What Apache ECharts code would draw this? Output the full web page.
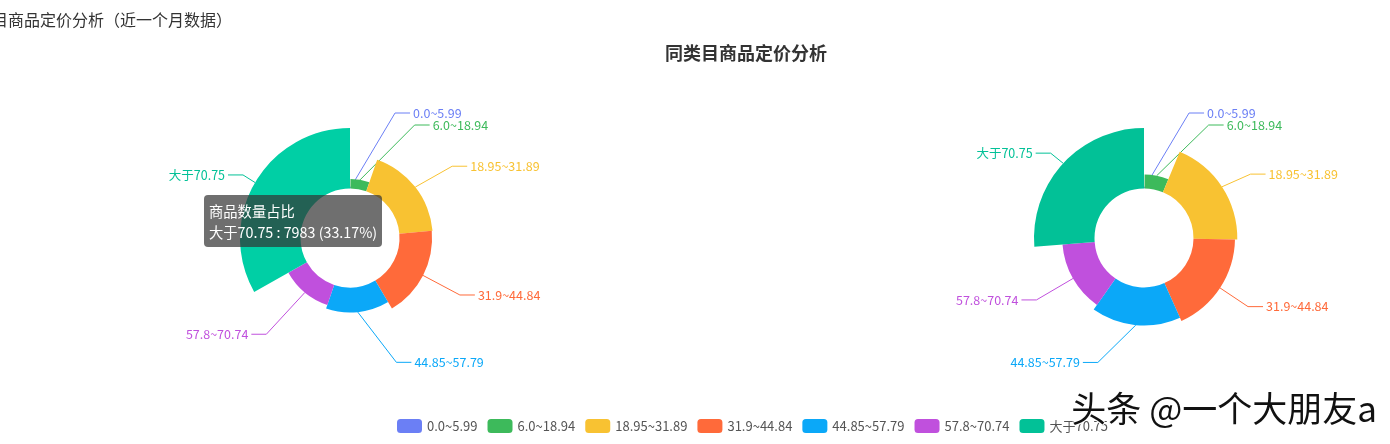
<!DOCTYPE html>
<html><head><meta charset="utf-8">
<script src="https://cdn.jsdelivr.net/npm/echarts@6.0.0/dist/echarts.min.js"></script>
<style>html,body{margin:0;padding:0;background:#fff;overflow:hidden}#c{width:1390px;height:444px}</style>
</head><body><div id="c"></div>
<script>
const categories = ['0.0~5.99', '6.0~18.94', '18.95~31.89', '31.9~44.84', '44.85~57.79', '57.8~70.74', '大于70.75'];
const leftValues = [30, 1250, 4400, 4300, 3304, 2800, 7983];
const rightValues = [30, 1220, 3800, 3600, 3300, 2800, 5250];
const colors = ['#6b7ff5', '#3dba5b', '#f8c232', '#ff6a3a', '#0ba8f8', '#c050dd', '#02c197'];
const seriesName = '商品数量占比';
const chartTitle = '同类目商品定价分析';
const pageTitle = '同类目商品定价分析（近一个月数据）';
const watermark = '头条 @一个大朋友a';

const FONT = "'Microsoft YaHei', 'Noto Sans CJK SC', sans-serif";
const R0 = 49.5, R = 110;
const LEFT_C = [350, 238], RIGHT_C = [1144, 238];

// Label placement in the classic (v4) pie-label style
function classicLabels(values, cx, cy, r0, r) {
  const len = 15, len2 = 15, h = 12;
  const total = values.reduce((a, b) => a + b, 0);
  const max = Math.max.apply(null, values);
  let ang = -Math.PI / 2;
  const items = values.map(function (v, i) {
    const a = v / total * Math.PI * 2;
    const mid = ang + a / 2; ang += a;
    const sr = r0 + (r - r0) * v / max;
    const dx = Math.cos(mid), dy = Math.sin(mid);
    const x1 = cx + sr * dx, y1 = cy + sr * dy;
    const x2 = x1 + dx * (len + r - sr), y2 = y1 + dy * (len + r - sr);
    const x3 = x2 + (dx < 0 ? -1 : 1) * len2;
    return { idx: i, x: x3 + (dx < 0 ? -5 : 5), y: y2, height: h, len: len, len2: len2,
      pts: [[x1, y1], [x2, y2], [x3, y2]] };
  });
  function adjust(list, dir) {
    list.sort(function (a, b) { return a.y - b.y; });
    const n = list.length;
    function shiftUp(end, delta) {
      for (let j = end; j >= 0; j--) {
        list[j].y -= delta;
        if (j > 0 && list[j].y > list[j - 1].y + list[j - 1].height) break;
      }
    }
    function shiftDown(start, end, delta) {
      for (let j = start; j < end; j++) {
        list[j].y += delta;
        if (j > start && j + 1 < end && list[j + 1].y > list[j].y + list[j].height) {
          shiftUp(j, delta / 2); return;
        }
      }
      shiftUp(end - 1, delta / 2);
    }
    let lastY = 0;
    for (let i = 0; i < n; i++) {
      const d = list[i].y - lastY;
      if (d < 0) shiftDown(i, n, -d);
      lastY = list[i].y + list[i].height;
    }
    const up = [], down = [];
    list.forEach(function (it) { (it.y >= cy ? down : up).push(it); });
    function changeX(arr, isDown) {
      let last = isDown ? Number.MAX_VALUE : 0;
      arr.forEach(function (it) {
        const deltaY = Math.abs(it.y - cy);
        const rr = r + it.len + it.len2;
        let deltaX = deltaY < r + it.len ? Math.sqrt(rr * rr - deltaY * deltaY) : Math.abs(it.x - cx);
        if (isDown && deltaX >= last) deltaX = last - 10;
        if (!isDown && deltaX <= last) deltaX = last + 10;
        it.x = cx + deltaX * dir;
        last = deltaX;
      });
    }
    changeX(up, false);
    changeX(down, true);
  }
  const right = items.filter(function (it) { return it.x >= cx; });
  const left = items.filter(function (it) { return it.x < cx; });
  adjust(right, 1);
  adjust(left, -1);
  const out = [];
  items.forEach(function (it) {
    const isLeft = it.x < cx;
    const p = it.pts;
    const dist = p[1][0] - p[2][0];
    p[2][0] = isLeft ? it.x + 3 : it.x - 3;
    p[1][0] = p[2][0] + dist;
    p[1][1] = p[2][1] = it.y;
    out[it.idx] = { x: it.x, y: it.y, align: isLeft ? 'right' : 'left', verticalAlign: 'middle',
      labelLinePoints: p };
  });
  return out;
}

const leftLabels = classicLabels(leftValues, LEFT_C[0], LEFT_C[1], R0, R);
const rightLabels = classicLabels(rightValues, RIGHT_C[0], RIGHT_C[1], R0, R);

function makeData(values, highlightIdx) {
  return categories.map(function (name, i) {
    const item = { name: name, value: values[i], itemStyle: { color: colors[i] },
      label: { color: colors[i] }, labelLine: { lineStyle: { color: colors[i] } } };
    if (i === highlightIdx) item.emphasis = { itemStyle: { color: '#00cfa5' }, label: { color: colors[i] } };
    return item;
  });
}

function makeSeries(values, center, labels, hi) {
  return {
    name: seriesName,
    type: 'pie',
    roseType: 'radius',
    center: center,
    radius: [R0, R],
    startAngle: 90,
    avoidLabelOverlap: false,
    label: { show: true, fontSize: 12.5, fontFamily: FONT },
    labelLine: { show: true, length: 15, length2: 15, lineStyle: { width: 1 } },
    labelLayout: function (p) { return labels[p.dataIndex]; },
    emphasis: { scale: false },
    data: makeData(values, hi)
  };
}

const chart = echarts.init(document.getElementById('c'));
chart.setOption({
  animation: false,
  color: colors,
  textStyle: { fontFamily: FONT },
  title: {
    text: chartTitle, left: 660, top: 39,
    textStyle: { fontSize: 18, fontWeight: 'bold', color: '#333', fontFamily: FONT }
  },
  tooltip: {
    trigger: 'item',
    formatter: '{a} <br/>{b} : {c} ({d}%)',
    position: [204, 195],
    alwaysShowContent: true,
    transitionDuration: 0,
    backgroundColor: 'rgba(50,50,50,0.7)',
    borderWidth: 0,
    padding: 5,
    textStyle: { color: '#fff', fontSize: 14.3, fontFamily: FONT, lineHeight: 21 },
    extraCssText: 'border-radius:4px;box-shadow:none;line-height:21px;'
  },
  legend: {
    data: categories,
    left: 392, top: 414,
    itemWidth: 25, itemHeight: 14, itemGap: 10,
    textStyle: { fontSize: 13, color: '#555', fontFamily: FONT }
  },
  graphic: [
    { type: 'text', left: -40, top: 12, style: { text: pageTitle, fontSize: 16, fill: '#333', fontFamily: FONT } },
    { type: 'text', right: 12, top: 390, z: 100,
      style: { text: watermark, fontSize: 35, fill: '#111', stroke: '#fff', lineWidth: 2, fontFamily: FONT } }
  ],
  series: [
    makeSeries(leftValues, LEFT_C, leftLabels, 6),
    makeSeries(rightValues, RIGHT_C, rightLabels, -1)
  ]
});
chart.dispatchAction({ type: 'highlight', seriesIndex: 0, dataIndex: 6 });
chart.dispatchAction({ type: 'showTip', seriesIndex: 0, dataIndex: 6 });
</script>
</body></html>
